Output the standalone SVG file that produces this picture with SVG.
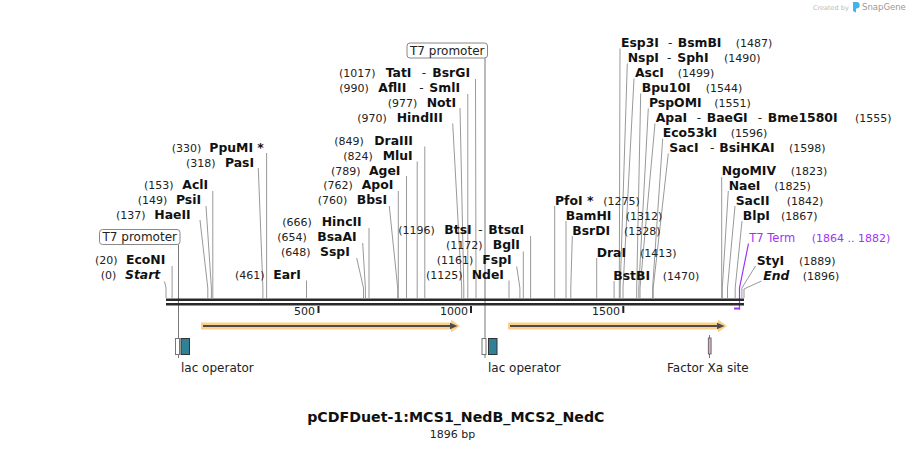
<svg xmlns="http://www.w3.org/2000/svg" width="911" height="449" viewBox="0 0 911 449">
<style>
.n{font-family:"DejaVu Sans",Verdana,sans-serif;font-weight:bold;font-size:12.4px;fill:#111}
.i{font-style:italic}
.p{font-family:"DejaVu Sans",Verdana,sans-serif;font-size:11px;fill:#222}
.d{font-family:"DejaVu Sans",Verdana,sans-serif;font-size:12px;fill:#222}
.f{font-family:"DejaVu Sans",Verdana,sans-serif;font-size:12px;fill:#222}
.t{font-family:"DejaVu Sans",Verdana,sans-serif;font-size:11px;fill:#222}
.pu{font-family:"DejaVu Sans",Verdana,sans-serif;font-size:11.5px;fill:#a033f5}
.c{fill:none;stroke:#999;stroke-width:1}
.fl{fill:none;stroke:#777;stroke-width:1}
.box{fill:#fff;stroke:#888;stroke-width:1}
.gene{fill:#fcd08a}
.gl{stroke:#4d4d4d;stroke-width:2;fill:none}
.gh{fill:#4d4d4d}
.op1{fill:#fff;stroke:#777;stroke-width:1}
.op2{fill:#2f8196;stroke:#333;stroke-width:1}
</style>

<!-- logo -->
<g id="logo">
<text x="813" y="10" style="font-family:'DejaVu Sans',sans-serif;font-size:6.5px;fill:#bbb">Created by</text>
<path d="M853,2 h3.5 a3.2,3.2 0 0 1 0,6.4 h-0.5 v4 l-3,-1.5 z" fill="#3db4ee"/>
<text x="862" y="10" style="font-family:'DejaVu Sans',sans-serif;font-size:8.5px;fill:#999">SnapGene</text>
</g>

<!-- connectors -->
<g id="connectors">
<polyline class="c" points="164.5,281.5 166,288 166,298"/>
<polyline class="c" points="172.1,266 172.1,298"/>
<polyline class="c" points="200,220 207.8,288 207.8,298"/>
<polyline class="c" points="206,206 211.4,288 211.4,298"/>
<polyline class="c" points="212.8,191 212.8,298"/>
<polyline class="c" points="258.3,168 262.9,288 262.9,298"/>
<polyline class="c" points="266.6,153 266.6,298"/>
<polyline class="c" points="306.5,280.5 306.5,298"/>
<polyline class="c" points="356.7,258 363.5,288 363.5,298"/>
<polyline class="c" points="362.7,243 365.4,288 365.4,298"/>
<polyline class="c" points="369,228 369,298"/>
<polyline class="c" points="389.3,206 397.7,288 397.7,298"/>
<polyline class="c" points="398.3,191 398.3,298"/>
<polyline class="c" points="406.5,176 406.5,298"/>
<polyline class="c" points="417.2,161.5 417.2,298"/>
<polyline class="c" points="424.8,146.5 424.8,298"/>
<polyline class="c" points="452.7,123.5 461.7,288 461.7,298"/>
<polyline class="c" points="460,108 463.8,288 463.8,298"/>
<polyline class="c" points="467.8,94 467.8,298"/>
<polyline class="c" points="475.5,79 476,288 476,298"/>
<polyline class="c" points="530.6,236 530.6,298"/>
<polyline class="c" points="523.3,251.5 523.3,298"/>
<polyline class="c" points="516.7,266.5 519.9,288 519.9,298"/>
<polyline class="c" points="509,280.5 509,298"/>
<polyline class="c" points="554.7,206 554.7,298"/>
<polyline class="c" points="566,221 566,298"/>
<polyline class="c" points="572.3,236 570.8,288 570.8,298"/>
<polyline class="c" points="596.7,258 596.7,298"/>
<polyline class="c" points="614.1,281 614.1,298"/>
<polyline class="c" points="620,48.5 619.3,288 619.3,298"/>
<polyline class="c" points="627.3,63.5 620.2,288 620.2,298"/>
<polyline class="c" points="634,78.5 623,288 623,298"/>
<polyline class="c" points="640.7,93.5 636.7,288 636.7,298"/>
<polyline class="c" points="648.3,108.5 638.8,288 638.8,298"/>
<polyline class="c" points="655,123.5 640,288 640,298"/>
<polyline class="c" points="662.7,138.5 652.6,288 652.6,298"/>
<polyline class="c" points="668.3,153.5 653.2,288 653.2,298"/>
<polyline class="c" points="721.7,177 721.7,298"/>
<polyline class="c" points="728.3,191 722.3,288 722.3,298"/>
<polyline class="c" points="735,206 727.5,288 727.5,298"/>
<polyline class="c" points="742,221 735.2,288 735.2,298"/>
<polyline class="c" points="755.5,266 741.9,288 741.9,298"/>
<polyline class="c" points="761.5,281 744,289 744,298"/>
<!-- feature lines -->
<line class="fl" x1="178.5" y1="244.5" x2="178.5" y2="358"/>
<line class="fl" x1="485" y1="58" x2="485" y2="358"/>
<line class="fl" x1="709.5" y1="335" x2="709.5" y2="358"/>
<polyline fill="none" stroke="#a033f5" stroke-width="1.2" points="748.5,243.5 739.5,288 739.5,309.5"/>
</g>

<!-- sequence backbone -->
<g id="backbone">
<rect x="166" y="298.5" width="578" height="2.5" fill="#2a2a2a"/>
<rect x="166" y="303" width="578" height="2.5" fill="#2a2a2a"/>
<rect x="734" y="307.5" width="6" height="2" fill="#a033f5"/>
<rect x="317.5" y="306" width="2" height="7" fill="#222"/>
<rect x="470" y="306" width="2" height="7" fill="#222"/>
<rect x="622.3" y="306" width="2" height="7" fill="#222"/>
<text class="t" x="315" y="315" text-anchor="end">500</text>
<text class="t" x="468" y="315" text-anchor="end">1000</text>
<text class="t" x="620" y="315" text-anchor="end">1500</text>
</g>

<!-- genes -->
<g id="gene1">
<polygon class="gene" points="201,322.5 451,322.5 451,319.5 460,326 451,332.5 451,329.5 201,329.5"/>
<line class="gl" x1="203" y1="326" x2="452" y2="326"/>
<polygon class="gh" points="450,322.8 457.5,326 450,329.2"/>
</g>
<g id="gene2">
<polygon class="gene" points="508,322.5 718,322.5 718,319.5 727,326 718,332.5 718,329.5 508,329.5"/>
<line class="gl" x1="510" y1="326" x2="719" y2="326"/>
<polygon class="gh" points="717,322.8 724.5,326 717,329.2"/>
</g>

<!-- features -->
<g id="lac1">
<rect class="op1" x="175.5" y="338.5" width="4" height="16"/>
<rect class="op2" x="181" y="338.5" width="8.5" height="16"/>
<text class="f" x="181" y="372">lac operator</text>
</g>
<g id="lac2">
<rect class="op1" x="482" y="338.5" width="4" height="16"/>
<rect class="op2" x="488.5" y="338.5" width="8.5" height="16"/>
<text class="f" x="488" y="372">lac operator</text>
</g>
<g id="factorxa">
<rect x="708.3" y="338" width="2.8" height="16" fill="#d6b0c6" stroke="#555" stroke-width="0.8"/>
<text class="f" x="667" y="372">Factor Xa site</text>
</g>
<g id="t7prom1">
<rect class="box" x="99.5" y="229.5" width="80.5" height="15" rx="3"/>
<text class="d" x="102.5" y="241">T7 promoter</text>
</g>
<g id="t7prom2">
<rect class="box" x="407" y="43" width="80.5" height="15" rx="3"/>
<text class="d" x="410" y="54.5">T7 promoter</text>
</g>
<g id="t7term">
<text class="pu" x="749.3" y="241.5">T7 Term</text>
<text class="pu" x="811.7" y="241.5" style="font-size:11px">(1864 .. 1882)</text>
</g>

<!-- left cluster -->
<g id="start"><text class="p" x="100.7" y="279">(0)</text><text class="n i" x="125" y="279">Start</text></g>
<g id="econi"><text class="p" x="95" y="264">(20)</text><text class="n" x="126" y="264">EcoNI</text></g>
<g id="haeii"><text class="p" x="116" y="218.5">(137)</text><text class="n" x="154.3" y="218.5">HaeII</text></g>
<g id="psii"><text class="p" x="137.7" y="204">(149)</text><text class="n" x="176" y="204">PsiI</text></g>
<g id="acli"><text class="p" x="144" y="189">(153)</text><text class="n" x="182.3" y="189">AclI</text></g>
<g id="pasi"><text class="p" x="186" y="166.5">(318)</text><text class="n" x="225" y="166.5">PasI</text></g>
<g id="ppumi"><text class="p" x="171.7" y="151.5">(330)</text><text class="n" x="209.3" y="151.5">PpuMI *</text></g>
<g id="eari"><text class="p" x="235" y="279">(461)</text><text class="n" x="273.3" y="279">EarI</text></g>

<!-- middle cluster -->
<g id="tati"><text class="p" x="339" y="76.5">(1017)</text><text class="n" x="385.7" y="76.5">TatI</text><text class="d" x="421.7" y="76.5">-</text><text class="n" x="432.3" y="76.5">BsrGI</text></g>
<g id="aflii"><text class="p" x="339.3" y="91.5">(990)</text><text class="n" x="378.3" y="91.5">AflII</text><text class="d" x="419.3" y="91.5">-</text><text class="n" x="429.3" y="91.5">SmlI</text></g>
<g id="noti"><text class="p" x="387.7" y="106.5">(977)</text><text class="n" x="426.7" y="106.5">NotI</text></g>
<g id="hindiii"><text class="p" x="357.3" y="121.5">(970)</text><text class="n" x="396.7" y="121.5">HindIII</text></g>
<g id="draiii"><text class="p" x="334.3" y="144.5">(849)</text><text class="n" x="374.3" y="144.5">DraIII</text></g>
<g id="mlui"><text class="p" x="343.3" y="159.5">(824)</text><text class="n" x="382.7" y="159.5">MluI</text></g>
<g id="agei"><text class="p" x="331" y="174.5">(789)</text><text class="n" x="369" y="174.5">AgeI</text></g>
<g id="apoi"><text class="p" x="323.3" y="189">(762)</text><text class="n" x="361.7" y="189">ApoI</text></g>
<g id="bbsi"><text class="p" x="317.7" y="204">(760)</text><text class="n" x="356.7" y="204">BbsI</text></g>
<g id="hincii"><text class="p" x="282.3" y="226">(666)</text><text class="n" x="321.7" y="226">HincII</text></g>
<g id="bsaai"><text class="p" x="277.3" y="241">(654)</text><text class="n" x="317.3" y="241">BsaAI</text></g>
<g id="sspi"><text class="p" x="281" y="256">(648)</text><text class="n" x="320" y="256">SspI</text></g>
<g id="btsi"><text class="p" x="398.3" y="234">(1196)</text><text class="n" x="444.3" y="234">BtsI</text><text class="d" x="478.3" y="234">-</text><text class="n" x="488.3" y="234">BtsαI</text></g>
<g id="bgli"><text class="p" x="446" y="249.3">(1172)</text><text class="n" x="492.7" y="249.3">BglI</text></g>
<g id="fspi"><text class="p" x="436.7" y="264">(1161)</text><text class="n" x="482.3" y="264">FspI</text></g>
<g id="ndei"><text class="p" x="426" y="279">(1125)</text><text class="n" x="471.7" y="279">NdeI</text></g>

<!-- right cluster -->
<g id="esp3i"><text class="n" x="621" y="46.5">Esp3I</text><text class="d" x="668" y="46.5">-</text><text class="n" x="677.7" y="46.5">BsmBI</text><text class="p" x="735.7" y="46.5">(1487)</text></g>
<g id="nspi"><text class="n" x="627.7" y="61.5">NspI</text><text class="d" x="667" y="61.5">-</text><text class="n" x="677.3" y="61.5">SphI</text><text class="p" x="724" y="61.5">(1490)</text></g>
<g id="asci"><text class="n" x="635" y="76.5">AscI</text><text class="p" x="677.7" y="76.5">(1499)</text></g>
<g id="bpu10i"><text class="n" x="641.7" y="91.5">Bpu10I</text><text class="p" x="705.7" y="91.5">(1544)</text></g>
<g id="pspomi"><text class="n" x="649" y="106.5">PspOMI</text><text class="p" x="714.3" y="106.5">(1551)</text></g>
<g id="apai"><text class="n" x="655.7" y="121.5">ApaI</text><text class="d" x="696.7" y="121.5">-</text><text class="n" x="706.7" y="121.5">BaeGI</text><text class="d" x="757.7" y="121.5">-</text><text class="n" x="767.7" y="121.5">Bme1580I</text><text class="p" x="855" y="121.5">(1555)</text></g>
<g id="eco53ki"><text class="n" x="662.7" y="136.5">Eco53kI</text><text class="p" x="730.7" y="136.5">(1596)</text></g>
<g id="saci"><text class="n" x="669.3" y="151.5">SacI</text><text class="d" x="710" y="151.5">-</text><text class="n" x="719.3" y="151.5">BsiHKAI</text><text class="p" x="789" y="151.5">(1598)</text></g>
<g id="ngomiv"><text class="n" x="721.7" y="175">NgoMIV</text><text class="p" x="790.7" y="175">(1823)</text></g>
<g id="naei"><text class="n" x="728.7" y="189.5">NaeI</text><text class="p" x="774.3" y="189.5">(1825)</text></g>
<g id="sacii"><text class="n" x="735.7" y="204.5">SacII</text><text class="p" x="786.7" y="204.5">(1842)</text></g>
<g id="blpi"><text class="n" x="742.7" y="219.5">BlpI</text><text class="p" x="781" y="219.5">(1867)</text></g>
<g id="styi"><text class="n" x="756.7" y="264.5">StyI</text><text class="p" x="799" y="264.5">(1889)</text></g>
<g id="end"><text class="n i" x="763.3" y="279.5">End</text><text class="p" x="802.7" y="279.5">(1896)</text></g>
<g id="pfoi"><text class="n" x="555" y="204.5">PfoI *</text><text class="p" x="603.3" y="204.5">(1275)</text></g>
<g id="bamhi"><text class="n" x="565.7" y="219.5">BamHI</text><text class="p" x="625.7" y="219.5">(1312)</text></g>
<g id="bsrdi"><text class="n" x="572.3" y="234.5">BsrDI</text><text class="p" x="624" y="234.5">(1328)</text></g>
<g id="drai"><text class="n" x="596.7" y="256.5">DraI</text><text class="p" x="640" y="256.5">(1413)</text></g>
<g id="bstbi"><text class="n" x="613.3" y="279.5">BstBI</text><text class="p" x="662.7" y="279.5">(1470)</text></g>

<!-- title -->
<g id="title">
<text x="455.8" y="422" text-anchor="middle" style="font-family:'DejaVu Sans',Verdana,sans-serif;font-weight:bold;font-size:14.2px;fill:#111">pCDFDuet-1:MCS1_NedB_MCS2_NedC</text>
<text x="452.5" y="438" text-anchor="middle" style="font-family:'DejaVu Sans',Verdana,sans-serif;font-size:11px;fill:#222">1896 bp</text>
</g>
</svg>
